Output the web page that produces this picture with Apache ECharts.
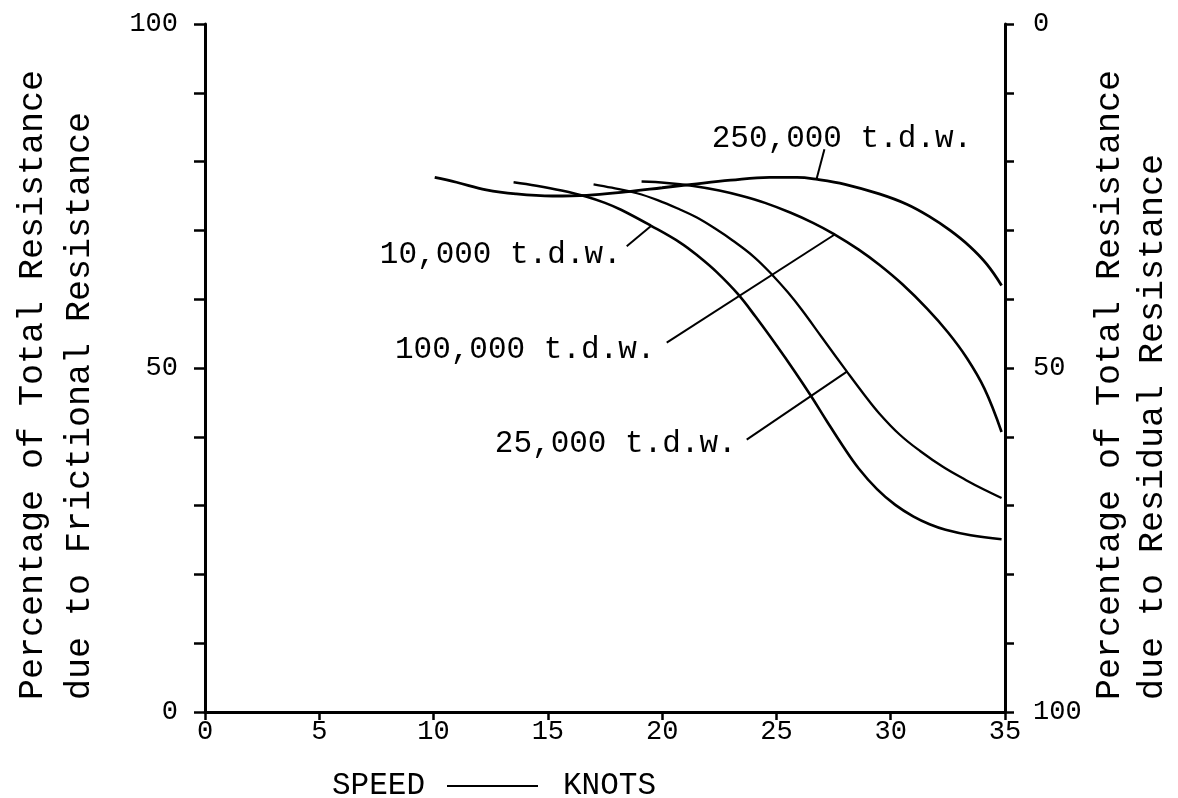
<!DOCTYPE html>
<html>
<head>
<meta charset="utf-8">
<script src="https://cdn.jsdelivr.net/npm/echarts@6/dist/echarts.min.js"></script>
<style>
html,body{margin:0;padding:0;background:#fff;}
#chart{width:1178px;height:798px;}
</style>
</head>
<body>
<div id="chart"></div>
<script>
// ---- data (speed in knots, % frictional) ----
const xTicks = [0, 5, 10, 15, 20, 25, 30, 35];
const leftLabels = [0, 50, 100];
const rightLabels = [0, 50, 100];

const ship10000 = [[13.5,77.0],[14.5,76.5],[15.6,75.8],[16.7,74.9],[17.5,74.0],[18.2,73.0],[19.5,70.7],[20.8,68.2],[21.6,66.2],[22.4,63.9],[23.3,60.8],[24.1,57.4],[25.0,53.3],[25.8,49.5],[26.5,46.0],[27.2,42.3],[27.9,38.7],[28.6,35.4],[29.4,32.4],[30.2,30.1],[31.0,28.4],[31.7,27.3],[32.4,26.5],[33.5,25.7],[34.85,25.1]];
const ship25000 = [[17.0,76.7],[17.8,76.2],[18.9,75.4],[19.8,74.4],[20.8,73.0],[21.5,71.9],[22.3,70.3],[23.1,68.5],[24.0,66.2],[24.8,63.6],[25.5,61.0],[26.1,58.5],[27.0,54.4],[28.1,49.4],[28.8,46.3],[29.5,43.4],[30.4,40.3],[31.3,37.9],[32.3,35.6],[33.3,33.7],[34.1,32.3],[34.85,31.1]];
const ship100000 = [[19.1,77.1],[20.2,76.9],[21.3,76.5],[22.5,75.8],[23.5,75.0],[24.5,74.0],[25.6,72.6],[26.6,71.1],[27.5,69.5],[28.6,67.2],[29.5,65.0],[30.5,62.2],[31.6,58.6],[32.5,55.2],[33.3,51.6],[34.1,47.0],[34.85,40.7]];
const ship250000 = [[10.05,77.7],[11.0,77.0],[12.3,75.9],[13.6,75.3],[15.2,75.0],[16.7,75.1],[18.4,75.6],[20.0,76.2],[21.3,76.7],[23.0,77.3],[24.7,77.7],[25.9,77.7],[26.8,77.4],[28.0,76.7],[29.5,75.3],[30.7,73.8],[31.7,72.0],[32.6,70.0],[33.45,67.7],[34.2,65.1],[34.85,62.0]];

const curveLabels = ['10,000 t.d.w.', '25,000 t.d.w.', '100,000 t.d.w.', '250,000 t.d.w.'];
// leader lines: [from (near label), to (on curve)] in data units
const leader10000 = [[18.45,67.7],[19.5,70.6]];
const leader25000 = [[23.7,39.6],[28.1,49.5]];
const leader100000 = [[20.2,53.7],[27.55,69.4]];
const leader250000 = [[27.1,81.8],[26.75,77.4]];
// label anchors (left edge, vertical middle) in data units
const labelAnchors = [[7.65,66.4],[12.68,39.0],[8.31,52.7],[22.17,83.3]];

const MONO = '"Liberation Mono", "DejaVu Sans Mono", monospace';
const chart = echarts.init(document.getElementById('chart'), null, {renderer:'canvas'});

function curve(name, data, w) {
  return {name, type:'line', data, smooth:0.4, symbol:'none', xAxisIndex:0, yAxisIndex:0,
    lineStyle:{color:'#000', width:w}, silent:true, z:3};
}
function leader(data) {
  return {type:'line', data, smooth:false, symbol:'none', xAxisIndex:0, yAxisIndex:0,
    lineStyle:{color:'#000', width:2}, silent:true, z:2};
}

const axisLineStyle = {color:'#000', width:3};
chart.setOption({
  backgroundColor:'#fff',
  animation:false,
  grid:{left:205, right:173, top:24, bottom:86, containLabel:false},
  xAxis:{type:'value', min:0, max:35, interval:5,
    axisLine:{show:true, onZero:false, lineStyle:axisLineStyle},
    axisTick:{show:true, length:8, lineStyle:{color:'#000', width:2.5}},
    axisLabel:{show:true, fontFamily:MONO, fontSize:27, color:'#000', margin:6,
      formatter:v => xTicks.includes(v) ? String(v) : ''},
    splitLine:{show:false}},
  yAxis:[
    {type:'value', min:0, max:100, interval:10, position:'left',
      axisLine:{show:true, lineStyle:axisLineStyle},
      axisTick:{show:true, length:11, lineStyle:{color:'#000', width:2.5}},
      axisLabel:{show:true, fontFamily:MONO, fontSize:27, color:'#000', margin:27,
        formatter:v => leftLabels.includes(v) ? String(v) : ''},
      splitLine:{show:false}},
    {type:'value', min:0, max:100, interval:10, position:'right', inverse:true,
      axisLine:{show:true, lineStyle:axisLineStyle},
      axisTick:{show:true, length:9, lineStyle:{color:'#000', width:2.5}},
      axisLabel:{show:true, fontFamily:MONO, fontSize:27, color:'#000', margin:28,
        formatter:v => rightLabels.includes(v) ? String(v) : ''},
      splitLine:{show:false}}
  ],
  series:[
    curve(curveLabels[0], ship10000, 2.6),
    curve(curveLabels[1], ship25000, 2.3),
    curve(curveLabels[2], ship100000, 2.6),
    curve(curveLabels[3], ship250000, 2.8),
    leader(leader10000), leader(leader25000), leader(leader100000), leader(leader250000)
  ]
});

// place labels through the chart's own scales
const g = [];
labelAnchors.forEach((a, i) => {
  const p = chart.convertToPixel({xAxisIndex:0, yAxisIndex:0}, a);
  g.push({type:'text', x:p[0], y:p[1], silent:true,
    style:{text:curveLabels[i], font:'31px ' + MONO, fill:'#000',
      textAlign:'left', textVerticalAlign:'middle'}});
});
function vtext(txt, x, y) {
  return {type:'text', x, y, rotation:Math.PI/2, silent:true,
    style:{text:txt, font:'35px ' + MONO, fill:'#000', textAlign:'left', textVerticalAlign:'middle'}};
}
g.push(vtext('Percentage of Total Resistance', 33, 700));
g.push(vtext('due to Frictional Resistance', 80, 700));
g.push(vtext('Percentage of Total Resistance', 1110, 700));
g.push(vtext('due to Residual Resistance', 1153, 700));
g.push({type:'text', x:332, y:786, silent:true,
  style:{text:'SPEED', font:'31px ' + MONO, fill:'#000', textAlign:'left', textVerticalAlign:'middle'}});
g.push({type:'line', silent:true, shape:{x1:447, y1:786, x2:538, y2:786}, style:{stroke:'#000', lineWidth:2}});
g.push({type:'text', x:563, y:786, silent:true,
  style:{text:'KNOTS', font:'31px ' + MONO, fill:'#000', textAlign:'left', textVerticalAlign:'middle'}});
chart.setOption({graphic:{elements:g}});
</script>
</body>
</html>
